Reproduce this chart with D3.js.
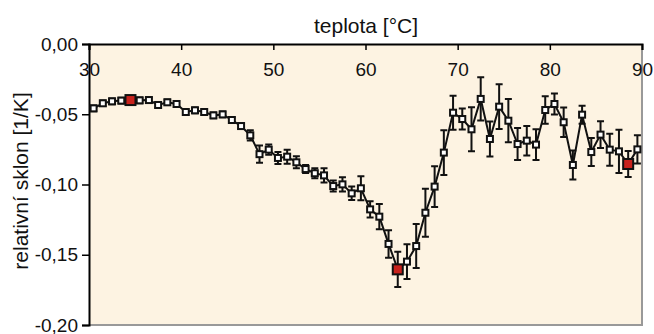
<!DOCTYPE html>
<html>
<head>
<meta charset="utf-8">
<script src="https://cdn.jsdelivr.net/npm/d3@7"></script>
<style>
  body { margin: 0; background: #fff; }
  text { font-family: "Liberation Sans", Arial, sans-serif; fill: #111; }
</style>
</head>
<body>
<svg id="svg" width="654" height="334"></svg>
<script>
// temperature of each measurement (°C)
const temps = d3.range(60).map(i => 30.5 + i)

const slopes = [
  -0.0458, -0.0422, -0.0408, -0.0403, -0.0399, -0.0401, -0.0399, -0.0434, -0.0415, -0.0427,
  -0.0484, -0.0472, -0.0484, -0.0508, -0.0501, -0.0541, -0.0584, -0.0650, -0.0784, -0.0752,
  -0.0811, -0.0802, -0.0842, -0.0890, -0.0920, -0.0935, -0.1011, -0.0999, -0.1063, -0.1027,
  -0.1177, -0.1229, -0.1423, -0.1604, -0.1549, -0.1438, -0.1201, -0.1015, -0.0773, -0.0489,
  -0.0534, -0.0607, -0.0391, -0.0676, -0.0446, -0.0546, -0.0712, -0.0688, -0.0716, -0.0470,
  -0.0427, -0.0557, -0.0861, -0.0503, -0.0769, -0.0645, -0.0752, -0.0764, -0.0854, -0.0750
]

const errors = [
  0.002, 0.002, 0.002, 0.002, 0.002, 0.002, 0.002, 0.002, 0.002, 0.002,
  0.002, 0.002, 0.002, 0.002, 0.002, 0.002, 0.002, 0.0036, 0.0062, 0.0036,
  0.0043, 0.005, 0.0043, 0.0028, 0.0036, 0.005, 0.0039, 0.005, 0.0048, 0.0085,
  0.0057, 0.009, 0.0098, 0.0125, 0.0123, 0.0157, 0.0171, 0.0145, 0.016, 0.0121,
  0.0075, 0.0157, 0.0154, 0.0125, 0.0159, 0.0154, 0.0114, 0.0105, 0.0109, 0.0098,
  0.0075, 0.0105, 0.0103, 0.0064, 0.01, 0.0095, 0.0114, 0.0154, 0.0093, 0.01
]

// highlighted points (red)
const highlighted = [34.5, 63.5, 88.5]

const xTicks = [30, 40, 50, 60, 70, 80, 90]
const yTicks = [0, -0.05, -0.10, -0.15, -0.20]

const data = temps.map((t, i) => ({ t, v: slopes[i], e: errors[i], hi: highlighted.includes(t) }))

const margin = { top: 44, right: 12, bottom: 9, left: 89 }
const width = 654
const height = 334

const xScale = d3.scaleLinear()
  .domain([30, 90])
  .range([margin.left, width - margin.right])

const yScale = d3.scaleLinear()
  .domain([-0.20, 0])
  .range([height - margin.bottom, margin.top])

const svg = d3.select('#svg')

// plot background
svg.append('rect')
  .attr('x', xScale(30))
  .attr('y', yScale(0))
  .attr('width', xScale(90) - xScale(30))
  .attr('height', yScale(-0.20) - yScale(0))
  .attr('fill', '#fdf3e2')

// grey right / bottom frame
svg.append('path')
  .attr('d', `M${xScale(90)},${yScale(0)}V${yScale(-0.20)}H${xScale(30)}`)
  .attr('fill', 'none')
  .attr('stroke', '#999')
  .attr('stroke-width', 2)

const fmt = d => d3.format('.2f')(d).replace('.', ',').replace('−', '-')

const yAxis = d3.axisLeft(yScale)
  .tickValues(yTicks)
  .tickFormat(fmt)
  .tickSize(7)
  .tickPadding(4)

const xAxis = d3.axisTop(xScale)
  .tickValues(xTicks)
  .tickFormat(d3.format('d'))
  .tickSize(-6)

const gy = svg.append('g')
  .attr('transform', `translate(${margin.left}, 0)`)
  .call(yAxis)
gy.select('.domain').attr('stroke-width', 2)
gy.selectAll('.tick line').attr('stroke-width', 1.5)
gy.selectAll('text').style('font-size', '19px').attr('fill', '#111')

const gx = svg.append('g')
  .attr('transform', `translate(0, ${margin.top})`)
  .call(xAxis)
gx.select('.domain').attr('stroke-width', 2)
gx.selectAll('.tick line').attr('stroke-width', 1.5)
gx.selectAll('text')
  .attr('y', 32)
  .attr('dy', 0)
  .style('font-size', '19px')
  .attr('fill', '#111')

// error bars
const eb = svg.append('g')
  .attr('stroke', '#111')
  .attr('stroke-width', 2)
  .attr('fill', 'none')

eb.selectAll('path')
  .data(data)
  .enter()
  .append('path')
  .attr('d', d => {
    const x = xScale(d.t)
    const y0 = yScale(d.v - d.e)
    const y1 = yScale(d.v + d.e)
    return `M${x - 3.5},${y0}H${x + 3.5}M${x},${y0}V${y1}M${x - 3.5},${y1}H${x + 3.5}`
  })

// connecting line
svg.append('path')
  .datum(data)
  .attr('d', d3.line().x(d => xScale(d.t)).y(d => yScale(d.v)))
  .attr('fill', 'none')
  .attr('stroke', '#111')
  .attr('stroke-width', 2)

// markers
svg.append('g')
  .selectAll('rect')
  .data(data)
  .enter()
  .append('rect')
  .attr('x', d => xScale(d.t) - (d.hi ? 5 : 3))
  .attr('y', d => yScale(d.v) - (d.hi ? 5 : 3))
  .attr('width', d => d.hi ? 10 : 6)
  .attr('height', d => d.hi ? 10 : 6)
  .attr('fill', d => d.hi ? '#c8221d' : '#fff')
  .attr('stroke', '#111')
  .attr('stroke-width', 2)

// titles
svg.append('text')
  .attr('x', 366)
  .attr('y', 33)
  .attr('text-anchor', 'middle')
  .style('font-size', '21px')
  .text('teplota [°C]')

svg.append('text')
  .attr('transform', `translate(28, 181) rotate(-90)`)
  .attr('text-anchor', 'middle')
  .style('font-size', '21px')
  .text('relativní sklon [1/K]')
</script>
</body>
</html>
